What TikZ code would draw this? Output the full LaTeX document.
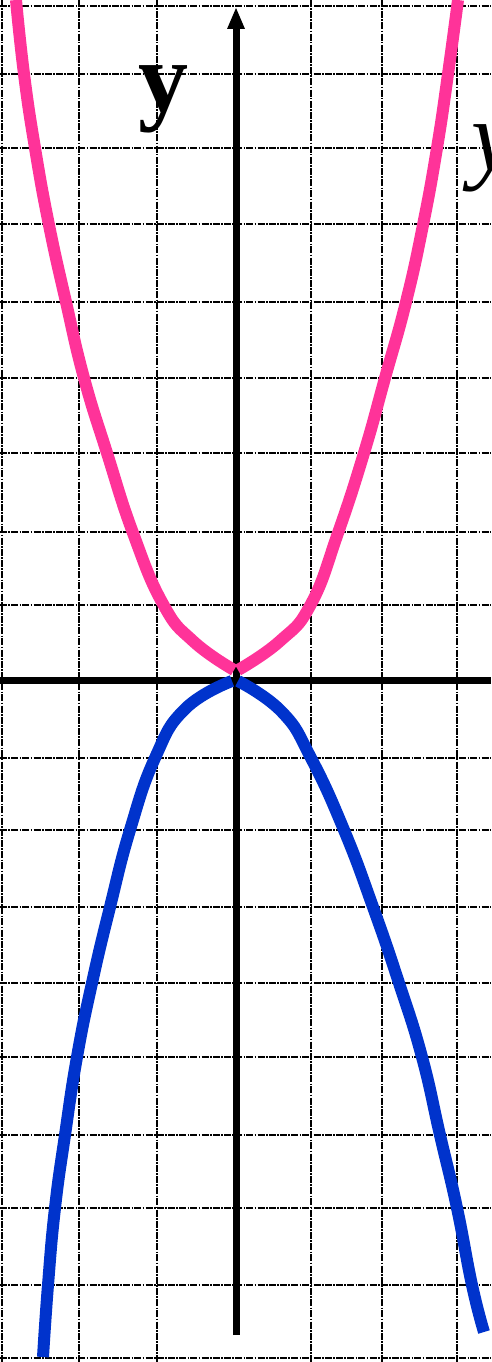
\documentclass[tikz,border=0pt]{standalone}
\usepackage{fontspec}
\setmainfont{Liberation Serif}
\definecolor{pinkc}{RGB}{255,51,153}
\definecolor{bluec}{RGB}{0,51,204}
\begin{document}
\begin{tikzpicture}[x=1pt,y=-1pt,
  gridline/.style={line width=2pt,black,dash pattern=on 7pt off 1.3pt on 1.6pt off 1.3pt},
  axisline/.style={line width=7pt,black},
  pinkcurve/.style={line width=12pt,pinkc,line cap=butt},
  bluecurve/.style={line width=12pt,bluec,line cap=butt},
  lbl/.style={inner sep=0pt,anchor=base west}]
\useasboundingbox (0,0) rectangle (491,1362);
\begin{scope}
\clip (0,0) rectangle (491,1362);
% grid
\foreach \gx in {2,79,157,311,382,457}{\draw[gridline] (\gx,0) -- (\gx,1362);}
\foreach \gy in {6,74,148,224,302,378,453,532,605,758,830,907,983,1057,1135,1208,1285,1358}{\draw[gridline] (0,\gy) -- (491,\gy);}
% axes
\draw[axisline] (0,680) -- (491,680);
\coordinate (ybot) at (236,1335);
\coordinate (ybase) at (236,26);
\draw[axisline] (ybot) -- (ybase);
\fill[black] (236,8) -- (245,29) -- (227,29) -- cycle;
% curves
\draw[pinkcurve] plot[smooth,tension=0.8] coordinates {(234,670) (193,641) (163,604) (133,533) (107,453) (84,378) (66,302) (49,225) (35,148) (24,74) (16,0)};
\draw[pinkcurve] plot[smooth,tension=0.8] coordinates {(238,670) (280,641) (311,604) (338,533) (364,453) (385,378) (406,302) (423,225) (437,148) (448,74) (458,0)};
\draw[bluecurve] plot[smooth,tension=0.8] coordinates {(232,681) (185,709) (155,758) (130,830) (110,907) (92,983) (77,1057) (65,1135) (55,1208) (48,1285) (43,1357)};
\draw[bluecurve] plot[smooth,tension=0.8] coordinates {(238,681) (282,712) (311,758) (344,830) (373,907) (399,983) (422,1057) (440,1135) (457,1208) (472,1285) (484,1332)};
% labels
\node[lbl] (ylab) at (138,112) {\fontsize{100}{100}\selectfont\bfseries y};
\node[lbl] (ylab2) at (471,170) {\fontsize{100}{100}\selectfont\itshape y};
\end{scope}
\end{tikzpicture}
\end{document}
